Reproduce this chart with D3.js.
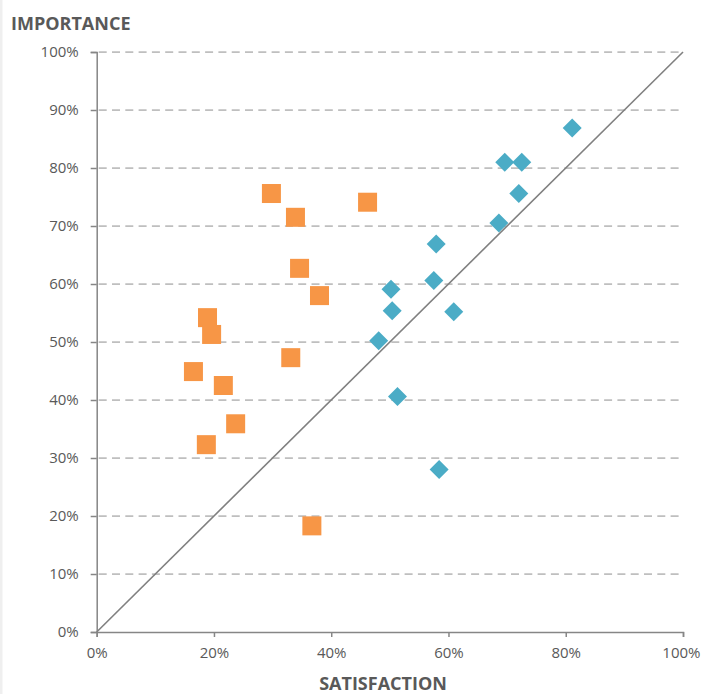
<!DOCTYPE html>
<html>
<head>
<meta charset="utf-8">
<script src="https://cdn.jsdelivr.net/npm/d3@7"></script>
<style>
  html, body { margin: 0; padding: 0; background: #fff; }
  svg { display: block; }
  text { font-family: "Open Sans", Lato, sans-serif; fill: #595959; }
</style>
</head>
<body>
<svg id="chart" width="701" height="694"></svg>
<script>
// Satisfaction (x) vs importance (y), in percent
const gapSatisfaction = [29.8, 33.9, 46.2, 34.6, 38.0, 18.9, 19.6, 33.1, 16.5, 21.6, 23.7, 18.7, 36.7];
const gapImportance   = [75.6, 71.5, 74.1, 62.7, 58.0, 54.2, 51.3, 47.3, 44.9, 42.5, 35.9, 32.3, 18.3];

const okSatisfaction  = [81.1, 69.6, 72.5, 72.0, 68.6, 57.9, 57.5, 50.2, 50.4, 60.9, 48.1, 51.3, 58.4];
const okImportance    = [86.9, 81.0, 81.0, 75.6, 70.5, 66.9, 60.6, 59.1, 55.4, 55.2, 50.2, 40.6, 28.0];

const xTicks = [0, 20, 40, 60, 80, 100];
const yTicks = [0, 10, 20, 30, 40, 50, 60, 70, 80, 90, 100];
const xTitle = "SATISFACTION";
const yTitle = "IMPORTANCE";

const FONT = '"Open Sans", Lato, sans-serif';
const svg = d3.select("#chart");

// faint frame edge on the left
svg.append("rect").attr("x", 0).attr("y", 0).attr("width", 2.5).attr("height", 694).attr("fill", "#efefef");

const x = d3.scaleLinear().domain([0, 100]).range([96.7, 683]);
const y = d3.scaleLinear().domain([0, 100]).range([632, 52]);
const pct = d => d + "%";

// dashed horizontal gridlines
svg.append("g")
  .selectAll("line")
  .data(yTicks.filter(d => d > 0))
  .join("line")
  .attr("x1", x(0) + 2).attr("x2", x(100))
  .attr("y1", d => y(d)).attr("y2", d => y(d))
  .attr("stroke", "#bfbfbf")
  .attr("stroke-width", 1.75)
  .attr("stroke-dasharray", "8,5.3");

// y axis
const yAxis = svg.append("g")
  .attr("transform", `translate(${x(0)},0)`)
  .call(d3.axisLeft(y).tickValues(yTicks).tickFormat(pct).tickSize(6).tickPadding(12));
yAxis.attr("font-family", FONT).attr("font-size", 15);
yAxis.select(".domain").attr("stroke", "#868686").attr("stroke-width", 1.5);
yAxis.selectAll(".tick line").attr("stroke", "#868686").attr("stroke-width", 1.5);
yAxis.selectAll(".tick text").attr("fill", "#595959");

// x axis
const xAxis = svg.append("g")
  .attr("transform", `translate(0,${y(0)})`)
  .call(d3.axisBottom(x).tickValues(xTicks).tickFormat(pct).tickSize(5).tickPadding(10));
xAxis.attr("font-family", FONT).attr("font-size", 15);
xAxis.select(".domain").attr("stroke", "#868686").attr("stroke-width", 1.5);
xAxis.selectAll(".tick line").attr("stroke", "#868686").attr("stroke-width", 1.5);
xAxis.selectAll(".tick text").attr("fill", "#595959");
// keep the last label inside the right edge
xAxis.selectAll(".tick text").filter(d => d === 100).attr("text-anchor", "end").attr("x", 700 - x(100));

// reference diagonal: satisfaction equals importance
svg.append("line")
  .attr("x1", x(0)).attr("y1", y(0))
  .attr("x2", x(100)).attr("y2", y(100))
  .attr("stroke", "#808080")
  .attr("stroke-width", 1.6);

// importance clearly above satisfaction: orange squares
const sq = 19;
svg.append("g")
  .selectAll("rect")
  .data(d3.zip(gapSatisfaction, gapImportance))
  .join("rect")
  .attr("x", d => x(d[0]) - sq / 2)
  .attr("y", d => y(d[1]) - sq / 2)
  .attr("width", sq).attr("height", sq)
  .attr("fill", "#f79646");

// remaining items: blue diamonds
const r = 9.5;
svg.append("g")
  .selectAll("path")
  .data(d3.zip(okSatisfaction, okImportance))
  .join("path")
  .attr("d", d => {
    const cx = x(d[0]), cy = y(d[1]);
    return `M${cx},${cy - r}L${cx + r},${cy}L${cx},${cy + r}L${cx - r},${cy}Z`;
  })
  .attr("fill", "#4bacc6");

// axis titles
svg.append("text")
  .attr("x", 11).attr("y", 29.5)
  .attr("font-size", 18).attr("font-weight", "bold")
  .text(yTitle);

svg.append("text")
  .attr("x", 383).attr("y", 690)
  .attr("text-anchor", "middle")
  .attr("font-size", 18).attr("font-weight", "bold")
  .text(xTitle);
</script>
</body>
</html>
